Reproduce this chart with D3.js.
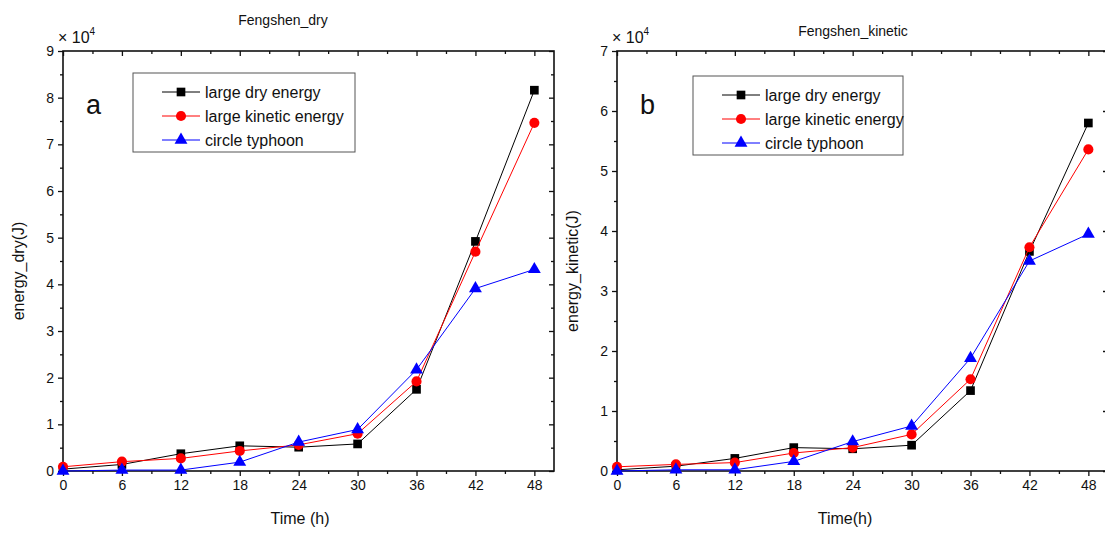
<!DOCTYPE html>
<html>
<head>
<meta charset="utf-8">
<script src="https://cdn.jsdelivr.net/npm/d3@7"></script>
<style>
  body { margin: 0; background: #fff; }
  svg text { font-family: "Liberation Sans", Arial, sans-serif; fill: #111; }
</style>
</head>
<body>
<div id="chart"></div>
<script>
    // values in units of 10^4 J
    const hours = [0, 6, 12, 18, 24, 30, 36, 42, 48];
    const seriesNames = ["large dry energy", "large kinetic energy", "circle typhoon"];

    const dryLargeDry = [0.04, 0.14, 0.37, 0.54, 0.51, 0.58, 1.75, 4.92, 8.16];
    const dryLargeKinetic = [0.09, 0.20, 0.27, 0.43, 0.56, 0.80, 1.92, 4.70, 7.46];
    const dryCircle = [0.0, 0.02, 0.02, 0.19, 0.62, 0.89, 2.17, 3.91, 4.32];

    const kinLargeDry = [0.02, 0.08, 0.21, 0.39, 0.37, 0.43, 1.34, 3.66, 5.80];
    const kinLargeKinetic = [0.07, 0.11, 0.14, 0.30, 0.39, 0.61, 1.53, 3.73, 5.36];
    const kinCircle = [0.0, 0.02, 0.02, 0.16, 0.49, 0.75, 1.88, 3.50, 3.95];

    const xTicks = [0, 6, 12, 18, 24, 30, 36, 42, 48];
    const xMinor = [3, 9, 15, 21, 27, 33, 39, 45];

    const colors = ["#000000", "#ff0000", "#0000ff"];
    const shapes = [d3.symbolSquare, d3.symbolCircle, d3.symbolTriangle];
    const sizes = [75, 80, 72];

    const w = 1105;
    const h = 536;

    const svg = d3.select("#chart")
        .append("svg")
        .attr("width", w)
        .attr("height", h)

    drawPanel({
        left: 63, right: 554, top: 51, bottom: 471,
        yMax: 9, title: "Fengshen_dry", titleY: 20, titleX: 283,
        yLabel: "energy_dry(J)", yLabelX: 24, xLabel: "Time (h)", xLabelX: 300,
        letter: "a", legendX: 133, legendY: 73, legendW: 222,
        data: [dryLargeDry, dryLargeKinetic, dryCircle]
    })

    drawPanel({
        left: 617, right: 1108, top: 51, bottom: 471,
        yMax: 7, title: "Fengshen_kinetic", titleY: 31, titleX: 853,
        yLabel: "energy_kinetic(J)", yLabelX: 578, xLabel: "Time(h)", xLabelX: 845,
        letter: "b", legendX: 693, legendY: 76, legendW: 210,
        data: [kinLargeDry, kinLargeKinetic, kinCircle]
    })

    function drawPanel(c) {
        const g = svg.append("g")

        const x = d3.scaleLinear().domain([0, 50]).range([c.left, c.right])
        const y = d3.scaleLinear().domain([0, c.yMax]).range([c.bottom, c.top])

        const yMajor = d3.range(0, c.yMax + 1)
        const yMinor = d3.range(0.5, c.yMax, 1)

        // bottom axis (labels) and mirrored top axis
        g.append("g")
            .attr("transform", `translate(0,${c.bottom})`)
            .call(d3.axisBottom(x).tickValues(xTicks).tickSize(5).tickPadding(4))
            .call(a => a.select(".domain").remove())
            .call(a => a.selectAll("text").style("font-size", "14px"))
        g.append("g")
            .attr("transform", `translate(0,${c.bottom})`)
            .call(d3.axisBottom(x).tickValues(xMinor).tickSize(3).tickFormat(""))
            .call(a => a.select(".domain").remove())
        g.append("g")
            .attr("transform", `translate(0,${c.top})`)
            .call(d3.axisBottom(x).tickValues(xTicks).tickSize(5).tickFormat(""))
            .call(a => a.select(".domain").remove())
        g.append("g")
            .attr("transform", `translate(0,${c.top})`)
            .call(d3.axisBottom(x).tickValues(xMinor).tickSize(3).tickFormat(""))
            .call(a => a.select(".domain").remove())

        // left axis (labels) and mirrored right axis
        g.append("g")
            .attr("transform", `translate(${c.left},0)`)
            .call(d3.axisLeft(y).tickValues(yMajor).tickSize(5).tickPadding(4).tickFormat(d3.format("d")))
            .call(a => a.select(".domain").remove())
            .call(a => a.selectAll("text").style("font-size", "14px"))
        g.append("g")
            .attr("transform", `translate(${c.left},0)`)
            .call(d3.axisLeft(y).tickValues(yMinor).tickSize(3).tickFormat(""))
            .call(a => a.select(".domain").remove())
        g.append("g")
            .attr("transform", `translate(${c.right},0)`)
            .call(d3.axisLeft(y).tickValues(yMajor).tickSize(5).tickFormat(""))
            .call(a => a.select(".domain").remove())
        g.append("g")
            .attr("transform", `translate(${c.right},0)`)
            .call(d3.axisLeft(y).tickValues(yMinor).tickSize(3).tickFormat(""))
            .call(a => a.select(".domain").remove())

        g.selectAll(".tick line").attr("stroke", "#111").attr("stroke-width", 1.3)

        // frame
        g.append("rect")
            .attr("x", c.left)
            .attr("y", c.top)
            .attr("width", c.right - c.left)
            .attr("height", c.bottom - c.top)
            .attr("fill", "none")
            .attr("stroke", "#111")
            .attr("stroke-width", 1.6)

        // series
        const line = d3.line()
            .x((d, i) => x(hours[i]))
            .y(d => y(d))

        c.data.forEach((vals, s) => {
            g.append("path")
                .datum(vals)
                .attr("d", line)
                .attr("fill", "none")
                .attr("stroke", colors[s])
                .attr("stroke-width", 1)

            g.selectAll(".pt" + s)
                .data(vals)
                .enter()
                .append("path")
                .attr("d", d3.symbol().type(shapes[s]).size(sizes[s]))
                .attr("transform", (d, i) => `translate(${x(hours[i])},${y(d)})`)
                .attr("fill", colors[s])
        })

        // titles
        g.append("text")
            .attr("x", c.titleX)
            .attr("y", c.titleY + 5)
            .attr("text-anchor", "middle")
            .style("font-size", "14px")
            .text(c.title)

        const mult = g.append("text")
            .attr("x", c.left - 5)
            .attr("y", 43)
            .style("font-size", "16px")
        mult.append("tspan").text("× 10")
        mult.append("tspan").attr("dy", -8).style("font-size", "10px").text("4")

        g.append("text")
            .attr("transform", `translate(${c.yLabelX},${(c.top + c.bottom) / 2 + 10}) rotate(-90)`)
            .attr("text-anchor", "middle")
            .style("font-size", "16px")
            .text(c.yLabel)

        g.append("text")
            .attr("x", c.xLabelX)
            .attr("y", 524)
            .attr("text-anchor", "middle")
            .style("font-size", "16px")
            .text(c.xLabel)

        g.append("text")
            .attr("x", c.left + 23)
            .attr("y", 114)
            .style("font-size", "27px")
            .text(c.letter)

        // legend
        const lg = g.append("g").attr("transform", `translate(${c.legendX},${c.legendY})`)
        lg.append("rect")
            .attr("width", c.legendW)
            .attr("height", 79)
            .attr("fill", "#fff")
            .attr("stroke", "#555")
            .attr("stroke-width", 1)

        seriesNames.forEach((name, s) => {
            const ly = 19 + s * 24
            lg.append("line")
                .attr("x1", 29).attr("x2", 67)
                .attr("y1", ly).attr("y2", ly)
                .attr("stroke", colors[s])
                .attr("stroke-width", 1)
            lg.append("path")
                .attr("d", d3.symbol().type(shapes[s]).size(sizes[s]))
                .attr("transform", `translate(48,${ly})`)
                .attr("fill", colors[s])
            lg.append("text")
                .attr("x", 72)
                .attr("y", ly + 6)
                .style("font-size", "16px")
                .text(name)
        })
    }
</script>
</body>
</html>
